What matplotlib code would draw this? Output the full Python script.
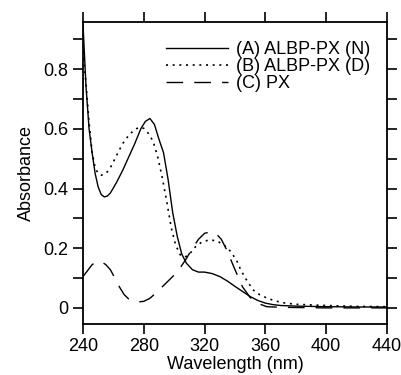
import matplotlib
matplotlib.use("Agg")
import matplotlib.pyplot as plt

plt.rcParams['font.family'] = ['Liberation Sans', 'DejaVu Sans']

wl_a = [240, 242, 244, 246, 248, 250, 252, 254, 256, 258, 262, 266, 270, 274, 278, 281, 284, 287, 290, 293, 296, 299, 302, 305, 308, 312, 316, 320, 325, 330, 335, 340, 345, 350, 355, 360, 365, 370, 380, 400, 420, 440]
abs_a = [0.95, 0.74, 0.6, 0.52, 0.45, 0.405, 0.38, 0.372, 0.375, 0.385, 0.42, 0.46, 0.505, 0.55, 0.6, 0.625, 0.635, 0.615, 0.565, 0.52, 0.43, 0.32, 0.24, 0.18, 0.15, 0.128, 0.12, 0.12, 0.115, 0.105, 0.09, 0.072, 0.055, 0.038, 0.025, 0.016, 0.011, 0.008, 0.006, 0.004, 0.003, 0.003]

wl_b = [240, 242, 244, 246, 248, 250, 252, 255, 258, 262, 266, 270, 274, 277, 280, 283, 286, 289, 292, 295, 298, 301, 304, 307, 310, 314, 318, 323, 328, 333, 337, 341, 344, 348, 352, 356, 361, 366, 372, 380, 400, 420, 440]
abs_b = [0.86, 0.75, 0.62, 0.52, 0.47, 0.45, 0.445, 0.45, 0.47, 0.51, 0.55, 0.578, 0.598, 0.605, 0.602, 0.585, 0.56, 0.51, 0.44, 0.36, 0.27, 0.21, 0.178, 0.17, 0.18, 0.205, 0.22, 0.228, 0.225, 0.21, 0.19, 0.16, 0.125, 0.09, 0.06, 0.045, 0.033, 0.024, 0.017, 0.012, 0.008, 0.005, 0.004]

wl_c = [240, 243, 246, 249, 252, 255, 258, 261, 264, 267, 270, 273, 276, 280, 284, 288, 292, 296, 300, 304, 308, 312, 316, 320, 324, 327, 331, 335, 339, 342, 345, 350, 355, 361, 370, 400, 440]
abs_c = [0.105, 0.125, 0.145, 0.155, 0.155, 0.145, 0.128, 0.1, 0.07, 0.045, 0.03, 0.022, 0.02, 0.022, 0.032, 0.05, 0.07, 0.09, 0.11, 0.135, 0.165, 0.2, 0.23, 0.25, 0.255, 0.252, 0.23, 0.19, 0.14, 0.105, 0.07, 0.035, 0.015, 0.004, 0.002, 0.0, 0.0]

labels = ['(A) ALBP-PX (N)', '(B) ALBP-PX (D)', '(C) PX']
xticks = [240, 280, 320, 360, 400, 440]
yticks = [0, 0.2, 0.4, 0.6, 0.8]
yticklabels = ['0', '0.2', '0.4', '0.6', '0.8']

FS = 13

fig = plt.figure(figsize=(4.01, 3.75), dpi=100)
ax = fig.add_axes([0.207, 0.136, 0.758, 0.805])

ax.plot(wl_a, abs_a, color='black', lw=1.0, linestyle='-', label=labels[0])
ax.plot(wl_b, abs_b, color='black', lw=1.2, linestyle=(0, (1.2, 2.8)), label=labels[1])
ax.plot(wl_c, abs_c, color='black', lw=1.0, linestyle=(0, (12, 8)), label=labels[2])

ax.set_xlim(240, 440)
ax.set_ylim(-0.054, 0.958)
ax.set_xticks(xticks)
ax.set_yticks(yticks)
ax.set_yticklabels(yticklabels)
ax.set_yticks([0.1, 0.3, 0.5, 0.7, 0.9], minor=True)

for s in ax.spines.values():
    s.set_linewidth(1.3)

ax.tick_params(axis='x', which='both', direction='out', top=True, length=7.5, width=1.2, labelsize=FS, pad=2.5)
ax.tick_params(axis='y', which='both', direction='out', right=True, length=7, width=1.2, labelsize=FS)

ax.set_xlabel('Wavelength (nm)', fontsize=FS, labelpad=1)
ax.set_ylabel('Absorbance', fontsize=FS, labelpad=6)

leg = ax.legend(loc='upper right', frameon=False, fontsize=FS, handlelength=3.4,
                handletextpad=0.45, labelspacing=0.0, borderaxespad=0.2,
                bbox_to_anchor=(0.98, 0.972))

fig.savefig('out.png', dpi=100)
